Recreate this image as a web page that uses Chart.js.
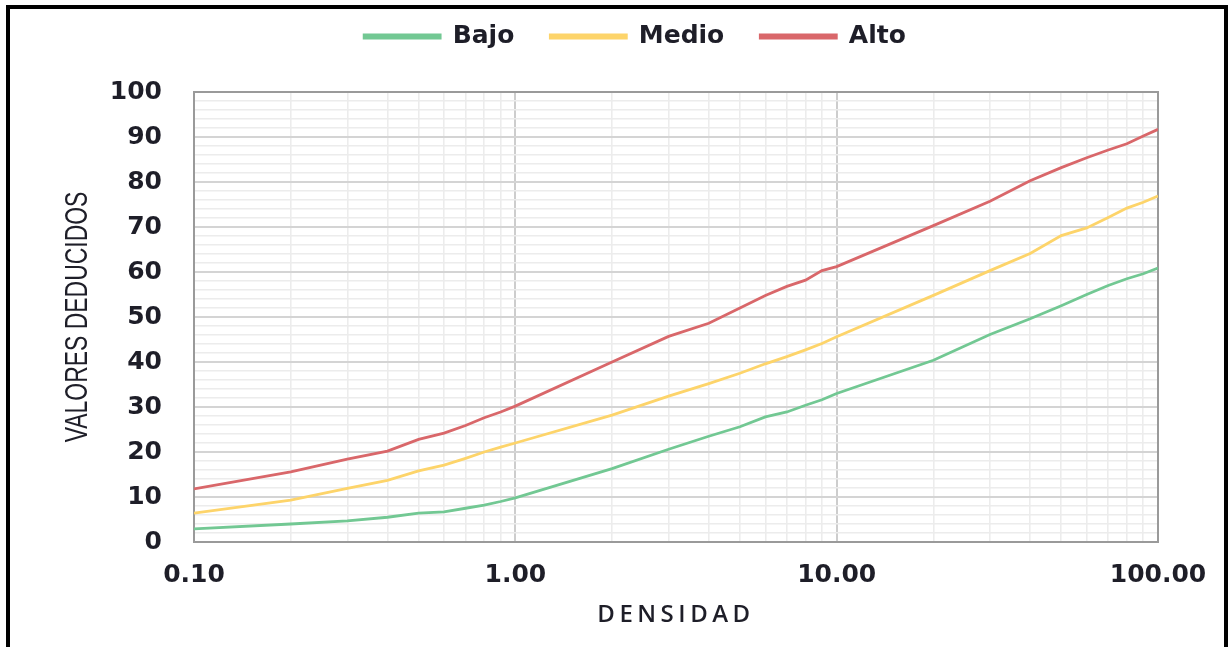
<!DOCTYPE html>
<html>
<head>
<meta charset="utf-8">
<script src="https://cdn.jsdelivr.net/npm/chart.js@4.4.1/dist/chart.umd.min.js"></script>
<style>
  html, body { margin: 0; padding: 0; background: #ffffff; }
  #wrap { position: relative; width: 1229px; height: 647px; overflow: hidden; }
  #frame {
    position: absolute; left: 6px; top: 5px; width: 1222px; height: 700px;
    box-sizing: border-box; border: 4px solid #000; border-bottom: none;
    pointer-events: none;
  }
  canvas { position: absolute; left: 0; top: 0; }
</style>
</head>
<body>
<div id="wrap">
  <canvas id="chart" width="1229" height="647"></canvas>
  <div id="frame"></div>
</div>
<script>
// Densidad (escala logarítmica)
const densidad = [0.1, 0.2, 0.3, 0.4, 0.5, 0.6, 0.7, 0.8, 0.9,
                  1, 2, 3, 4, 5, 6, 7, 8, 9,
                  10, 20, 30, 40, 50, 60, 70, 80, 90, 100];

// Valores deducidos por nivel de severidad
const bajo  = [2.9, 4.0, 4.7, 5.5, 6.4, 6.7, 7.5, 8.2, 9.0,
               9.8, 16.3, 20.6, 23.5, 25.6, 27.8, 28.9, 30.4, 31.6,
               33.0, 40.4, 46.1, 49.6, 52.5, 55.0, 57.0, 58.5, 59.6, 60.9];
const medio = [6.4, 9.3, 11.9, 13.7, 15.8, 17.1, 18.6, 20.0, 21.1,
               22.0, 28.2, 32.4, 35.2, 37.5, 39.6, 41.2, 42.7, 44.1,
               45.6, 54.8, 60.3, 64.1, 68.1, 69.8, 72.1, 74.2, 75.5, 76.9];
const alto  = [11.8, 15.6, 18.4, 20.2, 22.8, 24.2, 25.9, 27.6, 28.9,
               30.2, 40.0, 45.7, 48.6, 52.0, 54.8, 56.8, 58.2, 60.3,
               61.2, 70.3, 75.7, 80.3, 83.2, 85.4, 87.1, 88.5, 90.2, 91.7];

const seriesNames = ['Bajo', 'Medio', 'Alto'];
const seriesColors = ['#72c893', '#fdd46a', '#d9676a'];

// Tick positions: every 1..9 multiple per decade on x, every 2 units on y
const xTicks = [0.1, 0.2, 0.3, 0.4, 0.5, 0.6, 0.7, 0.8, 0.9,
                1, 2, 3, 4, 5, 6, 7, 8, 9,
                10, 20, 30, 40, 50, 60, 70, 80, 90, 100];
const xMajor = [0.1, 1, 10, 100];

const toPoints = (vals) => densidad.map((d, i) => ({ x: d, y: vals[i] }));
const isMajorX = (v) => xMajor.some(m => Math.abs(v - m) < 1e-9);

const TEXT = '#1e1e28';

// Outline of the plotting area
const plotBorder = {
  id: 'plotBorder',
  beforeDatasetsDraw(chart) {
    const { ctx, chartArea: a } = chart;
    ctx.save();
    ctx.strokeStyle = '#9a9a9a';
    ctx.lineWidth = 2;
    ctx.strokeRect(a.left, a.top, a.right - a.left, a.bottom - a.top);
    ctx.restore();
  }
};

// Legend placement and axis-title typography tweaks
const titleStyle = {
  id: 'titleStyle',
  afterLayout(chart) {
    const lg = chart.legend;
    if (lg) {
      lg.left += 26; lg.right += 26;
      lg.top -= 33; lg.bottom -= 33;
    }
    const xs = chart.scales.x;
    if (!xs._spacedTitle) {
      const orig = xs.drawTitle;
      xs.drawTitle = function () {
        const ctx = this.ctx;
        ctx.save();
        ctx.letterSpacing = '4.5px';
        orig.call(this);
        ctx.restore();
      };
      xs._spacedTitle = true;
    }
    const ys = chart.scales.y;
    if (!ys._narrowTitle) {
      const orig = ys.drawTitle;
      ys.drawTitle = function () {
        const ctx = this.ctx;
        const cy = (this.top + this.bottom) / 2;
        ctx.save();
        ctx.translate(0, cy);
        ctx.scale(1, 0.74);
        ctx.translate(0, -cy);
        orig.call(this);
        ctx.restore();
      };
      ys._narrowTitle = true;
    }
  }
};

new Chart(document.getElementById('chart'), {
  type: 'line',
  data: {
    datasets: [bajo, medio, alto].map((vals, i) => ({
      label: seriesNames[i],
      data: toPoints(vals),
      borderColor: seriesColors[i],
      backgroundColor: seriesColors[i],
      borderWidth: 2.8,
      pointRadius: 0,
      tension: 0
    }))
  },
  options: {
    responsive: false,
    animation: false,
    layout: { padding: { left: 60, right: 71, top: 21, bottom: 17 } },
    plugins: {
      tooltip: { enabled: false },
      legend: {
        position: 'top',
        labels: {
          color: TEXT,
          font: { family: 'DejaVu Sans', size: 25, weight: 'bold' },
          boxWidth: 76,
          boxHeight: 3,
          padding: 36
        }
      }
    },
    scales: {
      x: {
        type: 'logarithmic',
        min: 0.1,
        max: 100,
        afterBuildTicks(scale) {
          scale.ticks = xTicks.map(v => ({ value: v, major: isMajorX(v) }));
        },
        afterFit(scale) { scale.height = 88; },
        ticks: {
          autoSkip: false,
          maxRotation: 0,
          padding: 18,
          color: TEXT,
          font: { family: 'DejaVu Sans', size: 25, weight: 'bold' },
          callback(value) { return isMajorX(value) ? Number(value).toFixed(2) : ''; }
        },
        grid: {
          drawTicks: false,
          color: (c) => (c.tick && isMajorX(c.tick.value)) ? '#cdcdcd' : '#ececec',
          lineWidth: (c) => (c.tick && isMajorX(c.tick.value)) ? 2 : 1.6
        },
        border: { display: false },
        title: {
          display: true,
          text: 'DENSIDAD',
          color: TEXT,
          font: { family: 'Open Sans', size: 24, weight: '600' },
          padding: { top: 0, bottom: 0 }
        }
      },
      y: {
        min: 0,
        max: 100,
        afterFit(scale) { scale.width = 134; },
        ticks: {
          stepSize: 2,
          autoSkip: false,
          padding: 32,
          color: TEXT,
          font: { family: 'DejaVu Sans', size: 25, weight: 'bold' },
          callback(value) { return value % 10 === 0 ? String(value) : ''; }
        },
        grid: {
          drawTicks: false,
          color: (c) => (c.tick && c.tick.value % 10 === 0) ? '#d4d4d4' : '#ececec',
          lineWidth: (c) => (c.tick && c.tick.value % 10 === 0) ? 2 : 1.6
        },
        border: { display: false },
        title: {
          display: true,
          text: 'VALORES DEDUCIDOS',
          color: TEXT,
          font: { family: 'Liberation Sans', size: 31 },
          padding: { top: 0, bottom: 0 }
        }
      }
    }
  },
  plugins: [plotBorder, titleStyle]
});
</script>
</body>
</html>
